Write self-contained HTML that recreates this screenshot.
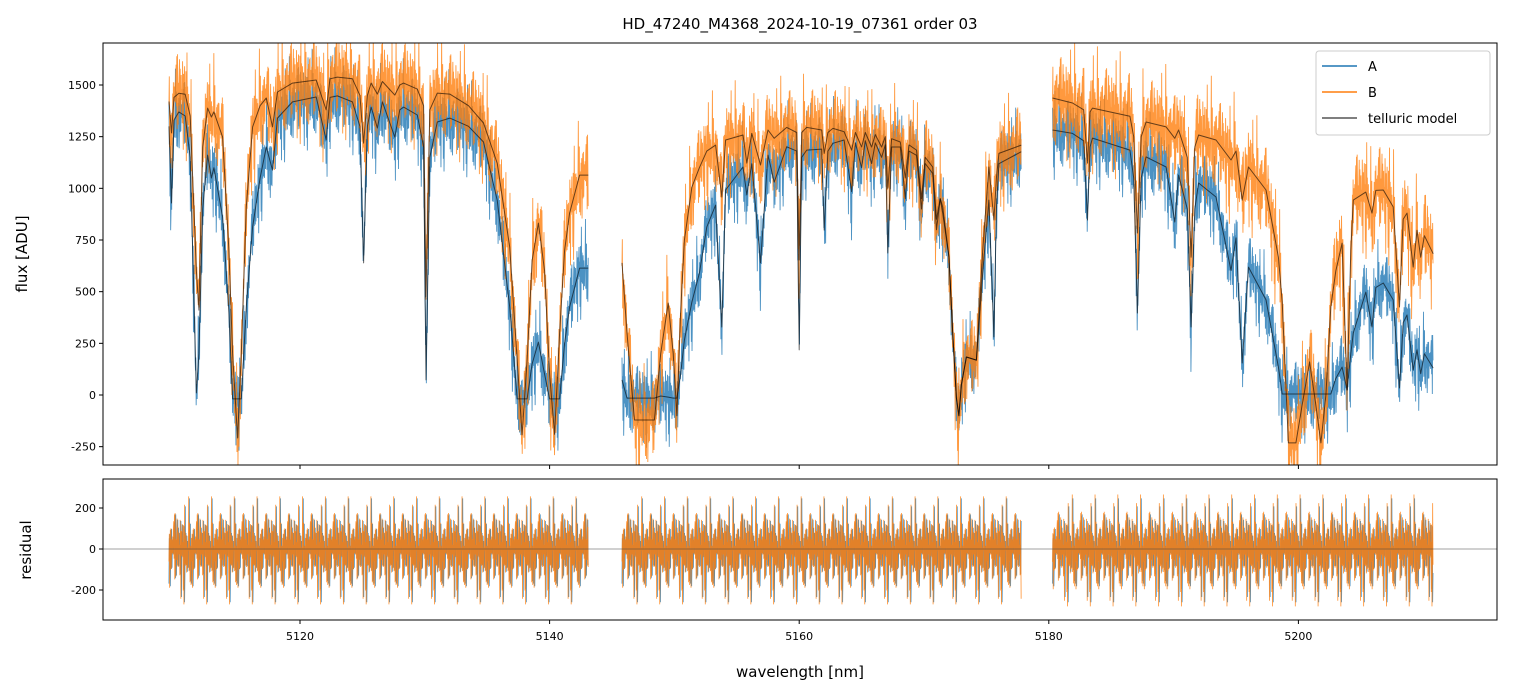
<!DOCTYPE html>
<html><head><meta charset="utf-8"><style>
body{margin:0;background:#fff;}
svg{display:block;font-family:"DejaVu Sans","Liberation Sans",sans-serif;}
</style></head><body>
<svg id="chart" width="1513" height="696" viewBox="0 0 1513 696">
<defs>
<clipPath id="cTop"><rect x="103" y="43" width="1394" height="422"/></clipPath>
<clipPath id="cBot"><rect x="103" y="479" width="1394" height="141"/></clipPath>
</defs>
<text x="800" y="29" font-size="15" text-anchor="middle">HD_47240_M4368_2024-10-19_07361  order 03</text>
<g id="gTop" clip-path="url(#cTop)"></g>
<g id="gBot" clip-path="url(#cBot)"></g>
<rect x="103" y="43" width="1394" height="422" fill="none" stroke="#000" stroke-width="1"/>
<rect x="103" y="479" width="1394" height="141" fill="none" stroke="#000" stroke-width="1"/>
<g id="gAxes" font-size="11"></g>
<text x="27" y="254" font-size="15" text-anchor="middle" transform="rotate(-90 27 254)">flux [ADU]</text>
<text x="31" y="550" font-size="15" text-anchor="middle" transform="rotate(-90 31 550)">residual</text>
<text x="800" y="677" font-size="15" text-anchor="middle">wavelength [nm]</text>
<g>
<rect x="1316" y="51" width="174" height="84" rx="3" fill="#fff" fill-opacity="0.85" stroke="#ccc"/>
<line x1="1322" y1="66" x2="1357" y2="66" stroke="#1f77b4" stroke-width="1.5"/>
<text x="1368" y="71" font-size="13">A</text>
<line x1="1322" y1="92" x2="1357" y2="92" stroke="#ff7f0e" stroke-width="1.5"/>
<text x="1368" y="97" font-size="13">B</text>
<line x1="1322" y1="118" x2="1357" y2="118" stroke="#555" stroke-width="1.5"/>
<text x="1368" y="123" font-size="13">telluric model</text>
</g>
</svg>
<script>
const wl1=[5109.5,5109.7,5109.9,5110.3,5110.8,5111.2,5111.7,5111.9,5112.2,5112.6,5112.9,5113.1,5113.8,5114.3,5114.6,5115.0,5115.3,5115.7,5116.2,5116.8,5117.3,5117.8,5118.2,5119.4,5121.3,5122.1,5122.4,5123.0,5124.2,5124.8,5125.1,5125.4,5125.7,5126.2,5126.6,5127.6,5128.0,5128.3,5129.4,5129.9,5130.1,5130.4,5131.0,5132.0,5133.5,5134.7,5135.8,5136.8,5137.4,5137.8,5138.2,5138.6,5139.1,5139.6,5140.0,5140.4,5140.8,5141.2,5141.6,5142.4,5143.1];
const modelA1=[1300,929,1330,1370,1350,1150,10,200,900,1161,1050,1100,861,400,-19,-19,-19,426,813,1050,1200,1088,1340,1418,1442,1234,1440,1447,1418,1300,639,1300,1393,1292,1418,1248,1380,1393,1355,1200,73,1150,1321,1340,1300,1224,943,426,-19,-19,-19,150,256,100,-19,-19,-19,250,426,614,614];
const modelB1=[1420,1268,1440,1460,1455,1350,600,411,1200,1388,1345,1370,1248,700,200,-208,200,910,1297,1400,1437,1297,1466,1509,1524,1379,1530,1538,1530,1450,1219,1450,1509,1456,1517,1451,1500,1509,1480,1400,474,1380,1461,1456,1400,1316,1122,716,168,-193,168,650,832,600,100,-190,300,700,880,1064,1064];
const wl2=[5145.8,5146.2,5146.8,5148.4,5148.9,5149.5,5149.9,5150.2,5150.5,5150.8,5151.4,5152.0,5152.6,5153.3,5153.8,5154.1,5155.5,5155.8,5156.2,5156.9,5157.5,5158.0,5159.0,5159.8,5160.0,5160.2,5160.6,5161.8,5162.0,5162.3,5162.7,5163.6,5164.2,5164.5,5165.0,5165.3,5165.8,5166.1,5166.6,5166.9,5167.1,5167.4,5168.1,5168.5,5168.8,5169.4,5169.8,5170.1,5170.7,5171.0,5171.3,5171.5,5172.0,5172.3,5172.6,5172.8,5173.0,5173.4,5174.2,5174.7,5175.2,5175.6,5175.8,5176.0,5177.8];
const modelA2=[73,-15,-15,-15,-5,-10,-15,-15,100,266,450,590,813,919,329,992,1103,968,1119,639,1161,1030,1201,1180,218,1150,1185,1190,798,1180,1218,1234,984,1220,1100,1230,1120,1220,1150,1210,687,1200,1200,950,1180,1160,900,1120,1072,800,950,880,667,300,-15,-100,50,184,169,590,943,281,900,1119,1177];
const modelB2=[639,300,-121,-121,200,445,200,-100,400,750,1006,1100,1180,1209,958,1234,1258,1122,1266,1113,1282,1242,1295,1270,653,1270,1295,1282,1169,1270,1290,1274,1185,1270,1200,1270,1200,1260,1200,1250,1000,1240,1224,1050,1210,1185,950,1150,1103,850,950,910,667,300,-15,-100,50,184,169,700,1103,847,1050,1169,1209];
const wl3=[5180.3,5181.9,5182.8,5183.1,5183.3,5183.5,5186.5,5186.8,5187.1,5187.4,5187.8,5189.4,5190.1,5190.4,5191.1,5191.4,5191.7,5192.0,5193.4,5194.6,5195.0,5195.5,5196.0,5197.4,5198.4,5198.7,5199.2,5199.8,5200.3,5200.9,5201.4,5201.8,5202.2,5202.6,5203.0,5203.5,5203.9,5204.2,5204.4,5205.4,5205.9,5206.2,5206.8,5207.6,5208.1,5208.4,5208.7,5209.2,5209.5,5209.8,5210.1,5210.8];
const modelA3=[1282,1266,1230,847,1200,1243,1185,1050,397,1050,1152,1103,837,1064,900,329,900,1026,958,603,760,155,619,460,135,5,5,5,5,5,5,5,5,5,80,135,24,200,300,498,329,520,542,460,34,350,387,121,218,103,200,130];
const modelB3=[1437,1413,1380,1122,1370,1388,1349,1250,784,1250,1321,1297,1242,1282,1150,667,1200,1258,1234,1137,1180,943,1103,992,667,450,-232,-232,-50,160,-50,-232,0,426,600,735,24,700,943,982,880,990,992,910,426,850,880,619,797,667,771,683];
const noiseAmpA=[125,120,120];
const noiseAmpB=[150,145,160];
const residAmpA=[130,130,130];
const residAmpB=[135,135,140];
const xTicks=[5120,5140,5160,5180,5200];
const yTicks=[-250,0,250,500,750,1000,1250,1500];
const rTicks=[-200,0,200];
const jitter=[0.9,-0.4,0.2,-1.3,0.6,-0.1,1.1,-0.7,0.3,-0.5,1.0,-0.9,0.1,-0.3,0.7,-1.8,0.4,-0.2,0.95,-0.6,0.05,-1.0,0.5,-0.35,1.6,-0.15,0.25,-0.75,0.65,-0.45,0.15,-1.2,0.8,-0.05,0.35,-0.85,1.25,-0.55,0.45,-1.5,0.75,-0.25,0.55,-0.95,0.12,-0.65,1.9,-0.4,0.3,-1.1,0.6,-0.2,0.85,-0.7,0.4,-1.4,1.05,-0.3,0.2,-0.8,0.5,-0.1,1.3,-0.6,0.7,-2.0,0.35];

const NS='http://www.w3.org/2000/svg';
const X=w=>300+(w-5120)*12.48;
const Y=v=>395-v*0.20667;
const RY=v=>549-v*0.205;
function mk(tag,at,parent){const e=document.createElementNS(NS,tag);for(const k in at)e.setAttribute(k,at[k]);parent.appendChild(e);return e;}
function interp(wl,vals,w){for(let i=0;i<wl.length-1;i++){if(w>=wl[i]&&w<=wl[i+1]){const t=(w-wl[i])/(wl[i+1]-wl[i]);return vals[i]+t*(vals[i+1]-vals[i]);}}return vals[vals.length-1];}
const gTop=document.getElementById('gTop'),gBot=document.getElementById('gBot'),gAx=document.getElementById('gAxes');
const segs=[[wl1,modelA1,modelB1],[wl2,modelA2,modelB2],[wl3,modelA3,modelB3]];
function noisy(wl,vals,amp,off,yf){let pts=[];const x0=X(wl[0]),x1=X(wl[wl.length-1]);let i=off;for(let x=x0;x<=x1;x+=0.34){const w=5120+(x-300)/12.48;const m=vals?interp(wl,vals,w):0;pts.push(x.toFixed(2)+','+yf(m+amp*jitter[i%jitter.length]).toFixed(1));i+=13;}return pts.join(' ');}
segs.forEach((s,k)=>{const p=mk('polyline',{points:noisy(s[0],s[1],noiseAmpA[k],0,Y),fill:'none',stroke:'#1f77b4','stroke-width':0.9,'stroke-opacity':0.8},gTop);

});
segs.forEach((s,k)=>{const p=mk('polyline',{points:noisy(s[0],s[2],noiseAmpB[k],5,Y),fill:'none',stroke:'#ff7f0e','stroke-width':0.9,'stroke-opacity':0.8},gTop);

});
segs.forEach((s,k)=>{[1,2].forEach(j=>{const pts=s[0].map((w,i)=>X(w).toFixed(1)+','+Y(s[j][i]).toFixed(1)).join(' ');
const p=mk('polyline',{points:pts,fill:'none',stroke:'#000','stroke-width':1,'stroke-opacity':0.6,'stroke-linejoin':'round'},gTop);

});});
segs.forEach((s,k)=>{const p=mk('polyline',{points:noisy(s[0],null,residAmpA[k],3,RY),fill:'none',stroke:'#1f77b4','stroke-width':0.8,'stroke-opacity':0.85},gBot);

});
segs.forEach((s,k)=>{const p=mk('polyline',{points:noisy(s[0],null,residAmpB[k],29,RY),fill:'none',stroke:'#ff7f0e','stroke-width':0.8,'stroke-opacity':0.85},gBot);

});
const zl=mk('line',{x1:103,x2:1497,y1:RY(0),y2:RY(0),stroke:'#444','stroke-width':0.5},gBot);


xTicks.forEach(t=>{const x=X(t);
mk('line',{x1:x,x2:x,y1:465,y2:469,stroke:'#000'},gAx);
mk('line',{x1:x,x2:x,y1:620,y2:624,stroke:'#000'},gAx);
const l=mk('text',{x:x,y:640,'text-anchor':'middle'},gAx);l.textContent=t;

});
yTicks.forEach(t=>{const y=Y(t);
mk('line',{x1:99,x2:103,y1:y,y2:y,stroke:'#000'},gAx);
const l=mk('text',{x:96,y:y+4,'text-anchor':'end'},gAx);l.textContent=t;

});
rTicks.forEach(t=>{const y=RY(t);
mk('line',{x1:99,x2:103,y1:y,y2:y,stroke:'#000'},gAx);
const l=mk('text',{x:96,y:y+4,'text-anchor':'end'},gAx);l.textContent=t;

});
</script>
</body></html>
